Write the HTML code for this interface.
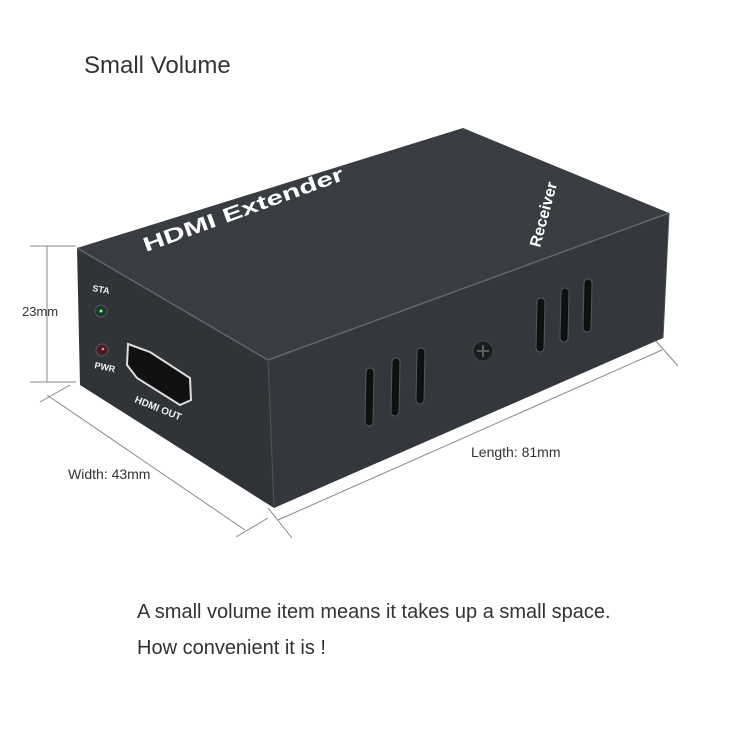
<!DOCTYPE html>
<html><head><meta charset="utf-8"><style>
html,body{margin:0;padding:0;background:#fff;}
body{width:750px;height:750px;overflow:hidden;position:relative;font-family:"Liberation Sans",sans-serif;}
.t{position:absolute;color:#333;white-space:nowrap;}
</style></head><body>
<div class="t" style="left:84px;top:52px;font-size:24px;">Small Volume</div>
<div class="t" style="left:137px;top:601px;font-size:20px;">A small volume item means it takes up a small space.</div>
<div class="t" style="left:137px;top:637px;font-size:20px;">How convenient it is !</div>
<svg width="750" height="750" style="position:absolute;left:0;top:0">
<g stroke="#888" stroke-width="1" fill="none">
<line x1="30" y1="246" x2="76" y2="246"/><line x1="30" y1="382" x2="76" y2="382"/>
<line x1="47" y1="246" x2="47" y2="382"/>
<line x1="47" y1="395" x2="245" y2="530"/>
<line x1="40" y1="402" x2="70" y2="385"/><line x1="236" y1="537" x2="268" y2="518"/>
<line x1="278" y1="520" x2="662" y2="350"/>
<line x1="268" y1="508" x2="292" y2="538"/><line x1="655" y1="340" x2="678" y2="366"/>
</g>
<text x="22" y="316" font-size="13" fill="#333">23mm</text>
<text x="68" y="479" font-size="14" fill="#333">Width: 43mm</text>
<text x="471" y="457" font-size="14" fill="#333">Length: 81mm</text>
<!-- box -->
<polygon points="77,248 463,128 669,213 268,360" fill="#393d43"/>
<polygon points="268,360 669,213 663,338 274,508" fill="#34383e"/>
<polygon points="77,248 268,360 274,508 80,385" fill="#303439"/>
<polyline points="77,248 268,360 669,213" fill="none" stroke="#5f656c" stroke-width="1.5"/>
<line x1="268" y1="360" x2="274" y2="508" stroke="#4c5157" stroke-width="1.2"/>
<line x1="669" y1="213" x2="663" y2="338" stroke="#4c5157" stroke-width="1"/>
<text transform="translate(146,252) rotate(-20)" font-size="20" font-weight="bold" fill="#fff" textLength="212" lengthAdjust="spacingAndGlyphs">HDMI Extender</text>
<text transform="translate(540,248) rotate(-75)" font-size="16" font-weight="bold" fill="#fff">Receiver</text>
<text x="92" y="291" font-size="9" font-weight="bold" fill="#eee" transform="rotate(10 92 291)">STA</text>
<circle cx="101" cy="311" r="6" fill="#1c3a2e" stroke="#556" stroke-width="1"/>
<circle cx="101" cy="311" r="1.5" fill="#8f8"/>
<circle cx="102" cy="350" r="6" fill="#4a1a22" stroke="#556" stroke-width="1"/>
<circle cx="103" cy="349" r="1.3" fill="#f88"/>
<text x="94" y="368" font-size="9" font-weight="bold" fill="#eee" transform="rotate(12 94 368)">PWR</text>
<polygon points="128,344 150,352 190,378 191,400 180,405 137,378 127,365" fill="#111" stroke="#ddd" stroke-width="2"/>
<text x="134" y="402" font-size="10" font-weight="bold" fill="#eee" transform="rotate(22 134 402)">HDMI OUT</text>
<g stroke="#55595e" stroke-width="9" stroke-linecap="round">
<line x1="370" y1="372" x2="369" y2="422"/><line x1="396" y1="362" x2="395" y2="412"/><line x1="421" y1="352" x2="420" y2="400"/>
<line x1="541" y1="302" x2="540" y2="348"/><line x1="565" y1="292" x2="564" y2="338"/><line x1="588" y1="283" x2="587" y2="328"/>
</g>
<g stroke="#0d0f11" stroke-width="7" stroke-linecap="round">
<line x1="370" y1="372" x2="369" y2="422"/><line x1="396" y1="362" x2="395" y2="412"/><line x1="421" y1="352" x2="420" y2="400"/>
<line x1="541" y1="302" x2="540" y2="348"/><line x1="565" y1="292" x2="564" y2="338"/><line x1="588" y1="283" x2="587" y2="328"/>
</g>
<circle cx="483" cy="351" r="10" fill="#1a1c1f" stroke="#444" stroke-width="1"/>
<path d="M477 351h12M483 345v12" stroke="#5a5e63" stroke-width="2"/>
</svg>
</body></html>
